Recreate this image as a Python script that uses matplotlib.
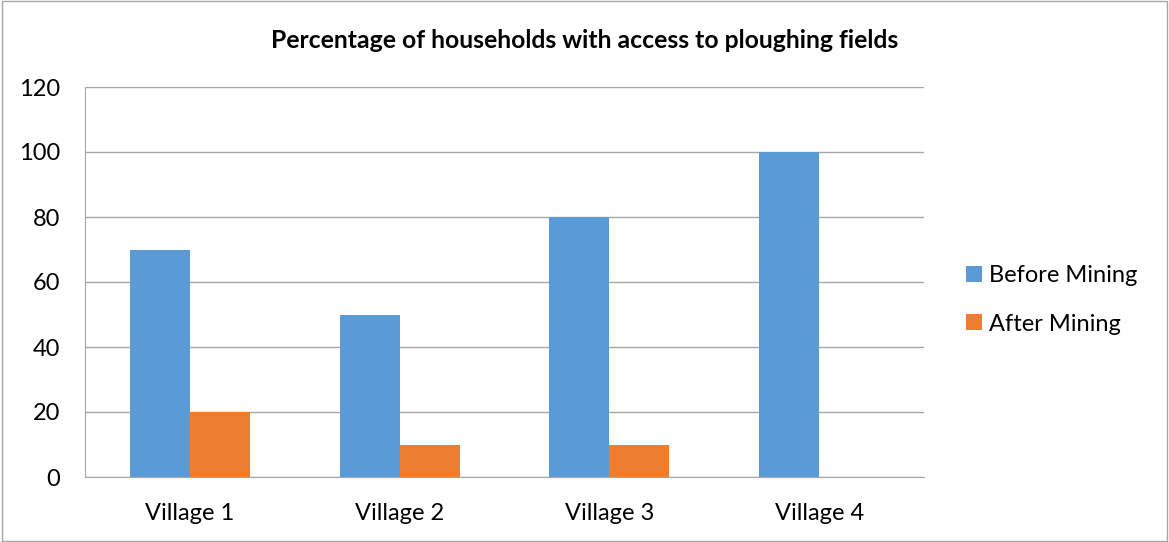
import matplotlib.pyplot as plt
import numpy as np
from matplotlib.patches import Rectangle

plt.rcParams['font.family'] = ['Lato', 'DejaVu Sans']

# data
villages = ['Village 1', 'Village 2', 'Village 3', 'Village 4']
before = [70, 50, 80, 100]
after = [20, 10, 10, 0]
yticks = [0, 20, 40, 60, 80, 100, 120]

fig = plt.figure(figsize=(11.69, 5.42), dpi=100)
ax = fig.add_axes([85 / 1169, 1 - 477 / 542, 839 / 1169, 390 / 542])

x = np.arange(len(villages))
w = 0.2857
ax.bar(x - w / 2, before, width=w, color='#5B9BD5', label='Before Mining', zorder=3)
ax.bar(x + w / 2, after, width=w, color='#ED7D31', label='After Mining', zorder=3)

ax.set_xlim(-0.5, len(villages) - 0.5)
ax.set_ylim(0, 120)
ax.set_yticks(yticks)
ax.set_xticks(x)
ax.set_xticklabels(villages, fontsize=17)
ax.tick_params(axis='y', labelsize=17, length=0, pad=18)
ax.tick_params(axis='x', length=0, pad=19)
ax.grid(axis='y', color='#A6A6A6', linewidth=1, zorder=0)
for s in ['top', 'right']:
    ax.spines[s].set_visible(False)
ax.spines['left'].set_color('#A6A6A6')
ax.spines['bottom'].set_color('#A6A6A6')

# title centred on the whole figure
fig.text(0.5, 1 - 40 / 542, 'Percentage of households with access to ploughing fields',
         fontsize=17.8, fontweight='bold', ha='center', va='center')

fig.legend(loc='center left', bbox_to_anchor=(945 / 1169, 1 - 300 / 542), frameon=False,
           fontsize=17, handlelength=0.65, handleheight=0.65, handletextpad=0.3,
           labelspacing=1.15)

# outer border
fig.patches.append(Rectangle((0.002, 0.002), 0.996, 0.996, transform=fig.transFigure,
                             fill=False, edgecolor='#A6A6A6', linewidth=1))

fig.savefig('out.png', dpi=100)
